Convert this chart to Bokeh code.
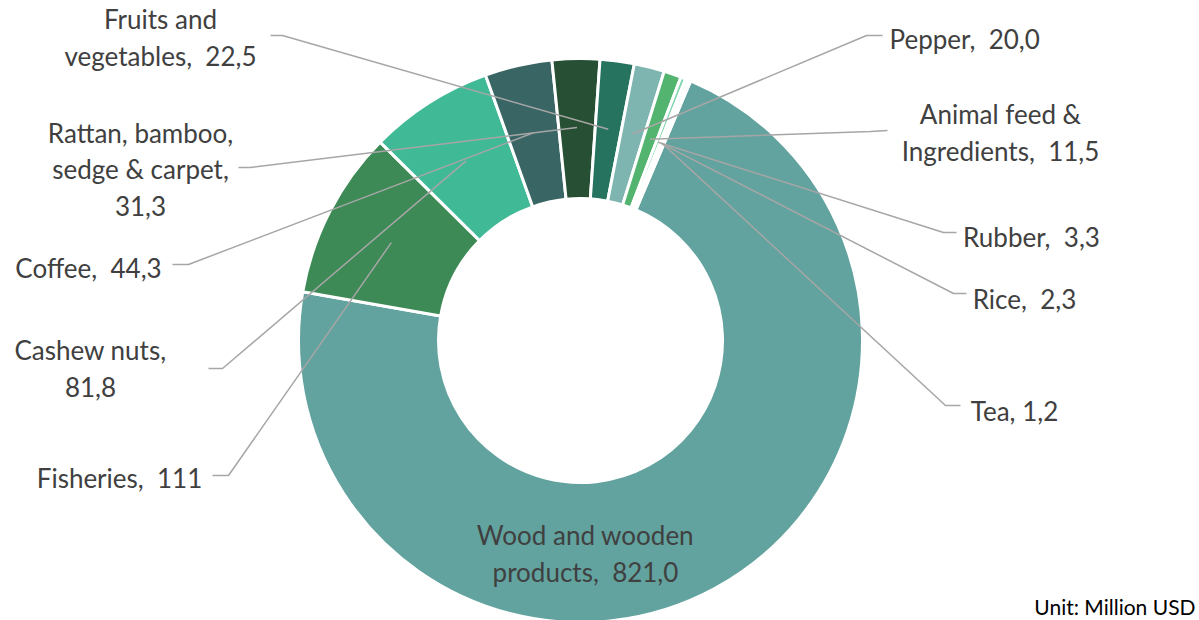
import math
from bokeh.plotting import figure
from bokeh.models import Range1d, ColumnDataSource
from bokeh.core.properties import value
from bokeh.embed import file_html
from bokeh.resources import INLINE

# ---- data ----
categories = ["Wood and wooden products", "Fisheries", "Cashew nuts", "Coffee",
              "Rattan, bamboo, sedge & carpet", "Fruits and vegetables", "Pepper",
              "Animal feed & Ingredients", "Rubber", "Rice", "Tea"]
values = [821.0, 111.0, 81.8, 44.3, 31.3, 22.5, 20.0, 11.5, 3.3, 2.3, 1.2]
S = " \u00a0"
label_texts = ["Wood and wooden\nproducts," + S + "821,0", "Fisheries," + S + "111",
               "Cashew nuts,\n81,8", "Coffee," + S + "44,3",
               "Rattan, bamboo,\nsedge & carpet,\n31,3",
               "Fruits and\nvegetables," + S + "22,5", "Pepper," + S + "20,0",
               "Animal feed &\nIngredients," + S + "11,5", "Rubber," + S + "3,3",
               "Rice," + S + "2,3", "Tea, 1,2"]
colors = ["#62A39F", "#3D8A56", "#40B996", "#396664", "#264F33", "#26735F",
          "#7FB5B1", "#52B46E", "#7FD6AE", "#EAF5EF", "#FFFFFF"]
unit_text = "Unit: Million USD"

# ---- layout (pixels, y from top) ----
W, H = 1199, 620
CX, CY = 580, 340
R_OUT, R_IN = 282, 142
FIRST_ANGLE = 23.0  # degrees clockwise from 12 o'clock

label_pos = [(585, 553, "center"), (119, 477, "center"), (90, 368, "center"),
             (88, 267, "center"), (140, 169, "center"), (160, 37, "center"),
             (889, 38, "left"), (1000, 132, "center"), (1031, 236, "center"),
             (1024, 298, "center"), (1014, 410, "center")]
leader_stub = [None, [(212, 475), (228, 475)], [(208, 368), (222, 368)],
               [(172, 264), (188, 264)], [(238, 167), (250, 167)],
               [(270, 35), (282, 35)], [(882, 35), (866, 35)],
               [(887, 130), (870, 131)], [(956, 232), (943, 232)],
               [(966, 293), (953, 293)], [(960, 405), (945, 405)]]

total = sum(values)
p = figure(width=W, height=H, x_range=Range1d(0, W), y_range=Range1d(0, H),
           output_backend="svg", toolbar_location=None, min_border=0)
p.axis.visible = False
p.grid.visible = False
p.outline_line_color = None
p.background_fill_color = "white"

starts, ends, mids = [], [], []
acc = FIRST_ANGLE
for v in values:
    span = v / total * 360.0
    starts.append(math.radians(90 - acc))
    ends.append(math.radians(90 - acc - span))
    mids.append(acc + span / 2)
    acc += span

src = ColumnDataSource(dict(x=[CX] * len(values), y=[H - CY] * len(values),
                            start=starts, end=ends, color=colors, name=categories,
                            val=values))
p.annular_wedge(x="x", y="y", inner_radius=R_IN, outer_radius=R_OUT,
                start_angle="start", end_angle="end", direction="clock",
                fill_color="color", line_color="white", line_width=3, source=src)

# leader lines
xs, ys = [], []
r_mid = (R_IN + R_OUT) / 2 + 1
for i, stub in enumerate(leader_stub):
    if stub is None:
        continue
    th = math.radians(mids[i])
    px = CX + r_mid * math.sin(th)
    py = CY - r_mid * math.cos(th)
    pts = stub + [(px, py)]
    xs.append([q[0] for q in pts])
    ys.append([H - q[1] for q in pts])
p.multi_line(xs=xs, ys=ys, line_color="#A6A6A6", line_width=1.5)

# labels
for i, (lx, ly, al) in enumerate(label_pos):
    p.text(x=[lx], y=[H - ly], text=[label_texts[i]], text_align=al,
           text_baseline="middle", text_font=value("Lato"), text_font_size="26px",
           text_color="#404040", text_line_height=1.13)

p.text(x=[1195], y=[H - 606], text=[unit_text], text_align="right",
       text_baseline="middle", text_font=value("Lato"), text_font_size="21px",
       text_color="#000000")

open("out.html", "w").write(file_html(p, INLINE))
